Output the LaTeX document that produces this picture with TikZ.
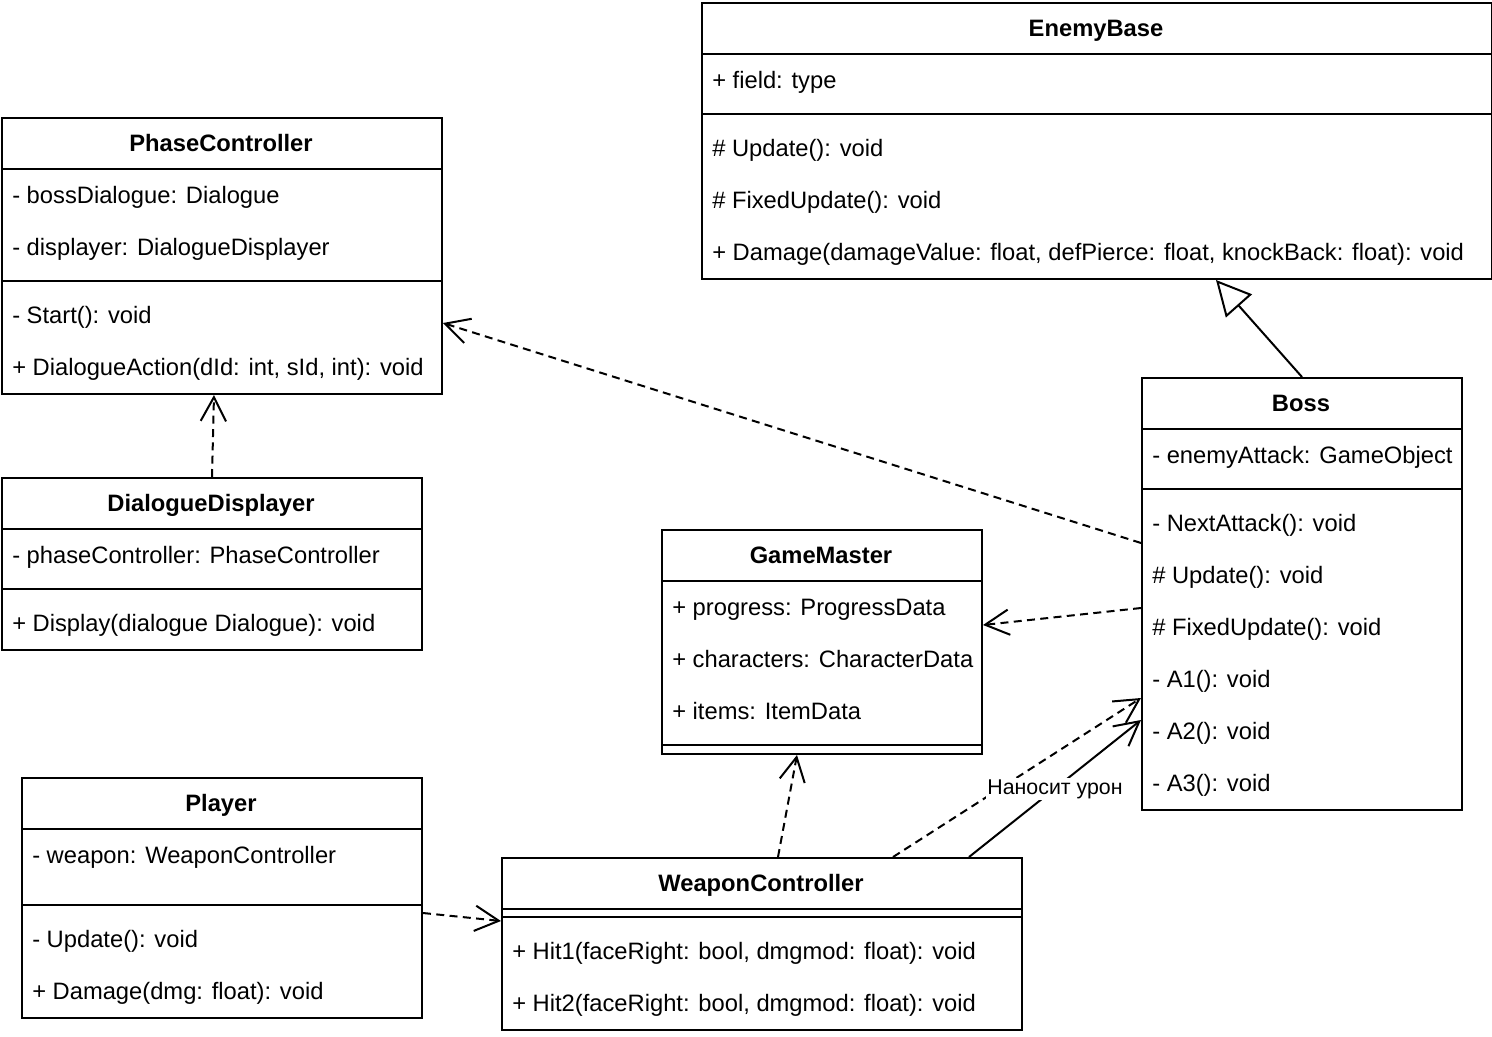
\documentclass[tikz,border=0pt]{standalone}
\usepackage{fontspec}
\setmainfont{Liberation Sans}
\usetikzlibrary{arrows.meta}
\tikzset{
  cbox/.style={draw, line width=1.5pt, fill=white, inner sep=0pt, rectangle},
  mem/.style={anchor=west, inner sep=0pt, text height=15pt, text depth=3pt},
  ctitle/.style={inner sep=0pt, font=\fontsize{17.8pt}{21pt}\selectfont\bfseries, text height=15pt, text depth=3pt},
  sep/.style={line width=1.5pt},
  dep/.style={line width=1.5pt, dash pattern=on 6pt off 4pt, -{Straight Barb[length=18pt,width=19pt]}},
  assoc/.style={line width=1.5pt, -{Straight Barb[length=18pt,width=19pt]}},
  gen/.style={line width=1.5pt, -{Triangle[open, length=26pt, width=26pt, fill=white]}},
  lbl/.style={fill=white, inner sep=1pt, font=\fontsize{16pt}{18pt}\selectfont}
}
\begin{document}
\begin{tikzpicture}[x=0.75pt, y=-0.75pt, font=\fontsize{17.8pt}{21pt}\selectfont]
\useasboundingbox (0,0) rectangle (1492,1036);

% EnemyBase
\node[cbox, minimum width=790*0.75pt, minimum height=276*0.75pt, anchor=north west] (enemy) at (701,2) {};
\node[ctitle] at (1096,28) {EnemyBase};
\draw[sep] (701,54) -- (1491,54);
\node[mem] at (712,80) {+ field: type};
\draw[sep] (701,114) -- (1491,114);
\node[mem] at (712,148) {\# Update(): void};
\node[mem] at (712,200) {\# FixedUpdate(): void};
\node[mem] at (712,252) {+ Damage(damageValue: float, defPierce: float, knockBack: float): void};

% PhaseController
\node[cbox, minimum width=440*0.75pt, minimum height=276*0.75pt, anchor=north west] (phase) at (1,117) {};
\node[ctitle] at (221,143) {PhaseController};
\draw[sep] (1,169) -- (441,169);
\node[mem] at (12,195) {- bossDialogue: Dialogue};
\node[mem] at (12,247) {- displayer: DialogueDisplayer};
\draw[sep] (1,281) -- (441,281);
\node[mem] at (12,315) {- Start(): void};
\node[mem] at (12,367) {+ DialogueAction(dId: int, sId, int): void};

% DialogueDisplayer
\node[cbox, minimum width=420*0.75pt, minimum height=172*0.75pt, anchor=north west] (dd) at (1,477) {};
\node[ctitle] at (211,503) {DialogueDisplayer};
\draw[sep] (1,529) -- (421,529);
\node[mem] at (12,555) {- phaseController: PhaseController};
\draw[sep] (1,589) -- (421,589);
\node[mem] at (12,623) {+ Display(dialogue Dialogue): void};

% GameMaster
\node[cbox, minimum width=320*0.75pt, minimum height=224*0.75pt, anchor=north west] (gm) at (661,529) {};
\node[ctitle] at (821,555) {GameMaster};
\draw[sep] (661,581) -- (981,581);
\node[mem] at (672,607) {+ progress: ProgressData};
\node[mem] at (672,659) {+ characters: CharacterData};
\node[mem] at (672,711) {+ items: ItemData};
\draw[sep] (661,745) -- (981,745);

% Boss
\node[cbox, minimum width=320*0.75pt, minimum height=432*0.75pt, anchor=north west] (boss) at (1141,377) {};
\node[ctitle] at (1301,403) {Boss};
\draw[sep] (1141,429) -- (1461,429);
\node[mem] at (1152,455) {- enemyAttack: GameObject};
\draw[sep] (1141,489) -- (1461,489);
\node[mem] at (1152,523) {- NextAttack(): void};
\node[mem] at (1152,575) {\# Update(): void};
\node[mem] at (1152,627) {\# FixedUpdate(): void};
\node[mem] at (1152,679) {- A1(): void};
\node[mem] at (1152,731) {- A2(): void};
\node[mem] at (1152,783) {- A3(): void};

% Player
\node[cbox, minimum width=400*0.75pt, minimum height=240*0.75pt, anchor=north west] (player) at (21,777) {};
\node[ctitle] at (221,803) {Player};
\draw[sep] (21,829) -- (421,829);
\node[mem] at (32,855) {- weapon: WeaponController};
\draw[sep] (21,905) -- (421,905);
\node[mem] at (32,939) {- Update(): void};
\node[mem] at (32,991) {+ Damage(dmg: float): void};

% WeaponController
\node[cbox, minimum width=520*0.75pt, minimum height=172*0.75pt, anchor=north west] (wc) at (501,857) {};
\node[ctitle] at (761,883) {WeaponController};
\draw[sep] (501,909) -- (1021,909);
\draw[sep] (501,917) -- (1021,917);
\node[mem] at (512,951) {+ Hit1(faceRight: bool, dmgmod: float): void};
\node[mem] at (512,1003) {+ Hit2(faceRight: bool, dmgmod: float): void};

% Connectors
\draw[gen] (boss.north) -- (enemy.south -| 1216,0);
\draw[dep] (boss.west |- 0,543) -- (phase.east |- 0,323);
\draw[dep] (boss.west |- 0,608) -- (gm.east |- 0,625);
\draw[dep] (dd.north) -- (phase.south -| 214,0);
\draw[dep] (wc.north -| 778,0) -- (gm.south -| 797,0);
\draw[dep] (wc.north -| 893,0) -- (boss.west |- 0,698);
\draw[assoc] (wc.north -| 969,0) -- (boss.west |- 0,720);
\draw[dep] (player.east |- 0,913) -- (wc.west |- 0,921);
\node[lbl] (lab) at (1055,789) {Наносит урон};
\end{tikzpicture}
\end{document}
